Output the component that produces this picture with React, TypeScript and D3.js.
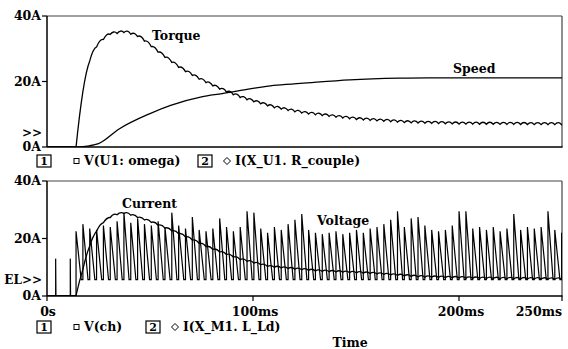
import React, { useEffect, useRef } from "react";
import * as d3 from "d3";

// upper plot: I(X_U1.R_couple) = torque, V(U1:omega) = speed
const torqueTimes = [0, 14.4, 16, 18, 20, 22, 25, 30, 38, 45, 55, 65, 75, 85, 95, 110, 125, 150, 175, 200, 225, 250];
const torqueValues = [0, 0, 10.5, 19.5, 25, 28.5, 31.5, 34.3, 35, 33.5, 28.4, 23.8, 20.3, 17.3, 14.8, 12, 10.2, 8.4, 7.4, 7, 6.9, 6.8];
const speedTimes = [0, 16, 20, 25, 35, 50, 60, 75, 85, 100, 110, 123, 147, 171, 185, 250];
const speedValues = [0, 0, 0.3, 1.0, 5.5, 10.2, 12.7, 15.3, 16.3, 17.9, 18.8, 19.4, 20.5, 21.0, 21.1, 21.1];

// lower plot: I(X_M1.L_Ld) = current, V(ch) = voltage
const currentTimes = [0, 14, 16, 18, 21, 24, 27, 32, 38, 50, 65, 79, 94, 108, 132, 157, 181, 210, 250];
const currentValues = [0, 0, 5, 11, 18, 22.5, 25.3, 28, 28.8, 25.8, 21.3, 16.6, 12.6, 10.1, 8.6, 7.8, 6.6, 6.1, 5.8];
const voltagePeaks = [
  22.5, 25, 23.5, 23, 24.5, 24, 26, 29, 25.5, 27, 25, 24.5, 26, 24, 29, 24.5, 23.5, 27.5,
  23, 22.5, 23.5, 27, 24, 22.5, 24, 29.5, 29, 23.5, 22, 24, 23, 25, 26.5, 28.5, 23, 22,
  21.5, 22, 22.5, 21.5, 22, 23, 22, 23.5, 24, 25, 26.5, 29.5, 24, 27, 27.5, 24.5, 23, 22.5,
  23, 24.5, 29.5, 29.5, 23.5, 24, 23, 24, 22.5, 23.5, 28.5, 23, 24, 23.5, 24, 29.5, 23, 22,
];
const earlySpikeTimes = [4.2, 11.3];
const earlySpikeValues = [13, 13];
const pwmStart = 14.1;
const pwmPeriod = 3.32;
const voltageBase = 5.7;

const yTicks = [0, 20, 40];
const yTickLabels = ["0A", "20A", "40A"];
const xTicks = [0, 100, 200, 250];
const xTickLabels = ["0s", "100ms", "200ms", "250ms"];

const font = "'DejaVu Serif', serif";

const App = () => {
  const ref = useRef<SVGSVGElement>(null);

  useEffect(() => {
    draw();
  });

  const draw = () => {
    const svg = d3.select(ref.current);
    svg.selectAll("*").remove();

    const left = 47;
    const right = 562;
    const x = d3.scaleLinear().domain([0, 250]).range([left, right]);
    const yTop = d3.scaleLinear().domain([0, 40]).range([147, 16]);
    const yBot = d3.scaleLinear().domain([0, 40]).range([296, 181]);

    const defs = svg.append("defs");
    defs.append("clipPath").attr("id", "clipTop")
      .append("rect").attr("x", left).attr("y", 16).attr("width", right - left).attr("height", 131);
    defs.append("clipPath").attr("id", "clipBot")
      .append("rect").attr("x", left).attr("y", 181).attr("width", right - left).attr("height", 115);

    // scalloped trace: cusps at each switching instant
    const rippled = (times: number[], values: number[], y: d3.ScaleLinear<number, number>, amp: number) => {
      const env = d3.scaleLinear().domain(times).range(values).clamp(true);
      let d = `M${x(0)},${y(0)}L${x(pwmStart)},${y(env(pwmStart))}`;
      for (let t0 = pwmStart; t0 < 250; t0 += pwmPeriod) {
        const t1 = t0 + pwmPeriod;
        const xm = (x(t0) + x(t1)) / 2;
        d += `Q${xm},${y(env((t0 + t1) / 2)) - amp * 2} ${x(t1)},${y(env(t1))}`;
      }
      return d;
    };

    const plots = [
      { y: yTop, marker: ">>", markerY: 133 },
      { y: yBot, marker: "EL>>", markerY: 280 },
    ];

    plots.forEach((p) => {
      const g = svg.append("g");
      const [y0, y1] = p.y.range();
      g.append("line").attr("x1", left).attr("x2", right).attr("y1", y1).attr("y2", y1)
        .attr("stroke", "#444").attr("stroke-width", 1.2);
      g.append("line").attr("x1", right).attr("x2", right).attr("y1", y1).attr("y2", y0)
        .attr("stroke", "#444").attr("stroke-width", 1.2);
      g.append("line").attr("x1", left).attr("x2", right + 0.6).attr("y1", y0).attr("y2", y0)
        .attr("stroke", "#000").attr("stroke-width", 1.5);
      g.append("line").attr("x1", left).attr("x2", left).attr("y1", y1).attr("y2", y0)
        .attr("stroke", "#000").attr("stroke-width", 1.5);
      yTicks.forEach((v, i) => {
        g.append("line").attr("x1", left - 5).attr("x2", left).attr("y1", p.y(v)).attr("y2", p.y(v))
          .attr("stroke", "#000").attr("stroke-width", 1.2);
        g.append("text").attr("x", left - 6).attr("y", p.y(v)).attr("dy", "0.35em")
          .attr("text-anchor", "end").attr("font-family", font).attr("font-weight", "bold")
          .attr("font-size", 12.5).text(yTickLabels[i]);
      });
      g.append("text").attr("x", left - 5).attr("y", p.markerY).attr("dy", "0.35em")
        .attr("text-anchor", "end").attr("font-family", font).attr("font-weight", "bold")
        .attr("font-size", 12).text(p.marker);
    });

    // bottom x axis
    xTicks.forEach((v, i) => {
      svg.append("line").attr("x1", x(v)).attr("x2", x(v)).attr("y1", 296).attr("y2", 301)
        .attr("stroke", "#000").attr("stroke-width", 1.2);
      svg.append("text").attr("x", i === 0 ? x(v) + 1 : i === xTicks.length - 1 ? x(v) : x(v) + 2)
        .attr("y", 312).attr("dy", "0.35em")
        .attr("text-anchor", i === 0 ? "middle" : i === xTicks.length - 1 ? "end" : "middle")
        .attr("font-family", font).attr("font-weight", "bold").attr("font-size", 12.5)
        .text(xTickLabels[i]);
    });
    svg.append("text").attr("x", 350).attr("y", 343).attr("dy", "0.35em").attr("text-anchor", "middle")
      .attr("font-family", font).attr("font-weight", "bold").attr("font-size", 12.5).text("Time");

    // upper traces
    const top = svg.append("g").attr("clip-path", "url(#clipTop)");
    top.append("path").attr("d", rippled(torqueTimes, torqueValues, yTop, 2))
      .attr("fill", "none").attr("stroke", "#000").attr("stroke-width", 1.3);
    const speedLine = d3.line<number>()
      .x((_, i) => x(speedTimes[i]))
      .y((d) => yTop(d))
      .curve(d3.curveMonotoneX);
    top.append("path").attr("d", speedLine(speedValues))
      .attr("fill", "none").attr("stroke", "#000").attr("stroke-width", 1.3);

    // lower traces
    const bot = svg.append("g").attr("clip-path", "url(#clipBot)");
    let vd = `M${x(0)},${yBot(0)}`;
    earlySpikeTimes.forEach((t, i) => {
      vd += `L${x(t)},${yBot(0)}L${x(t)},${yBot(earlySpikeValues[i])}L${x(t) + 0.3},${yBot(0)}`;
    });
    vd += `L${x(pwmStart)},${yBot(0)}`;
    voltagePeaks.forEach((v, k) => {
      const tk = pwmStart + k * pwmPeriod;
      vd += `L${x(tk)},${yBot(v)}L${x(tk + pwmPeriod * 0.75)},${yBot(voltageBase)}L${x(tk + pwmPeriod)},${yBot(voltageBase)}`;
    });
    bot.append("path").attr("d", vd)
      .attr("fill", "none").attr("stroke", "#000").attr("stroke-width", 1.2);
    bot.append("path").attr("d", rippled(currentTimes, currentValues, yBot, 1.4))
      .attr("fill", "none").attr("stroke", "#000").attr("stroke-width", 1.3);

    // trace labels
    const labels = [
      { t: "Torque", x: 152, y: 36 },
      { t: "Speed", x: 453, y: 69 },
      { t: "Current", x: 122, y: 204 },
      { t: "Voltage", x: 317, y: 221 },
    ];
    labels.forEach((l) => {
      svg.append("text").attr("x", l.x).attr("y", l.y).attr("dy", "0.35em")
        .attr("font-family", font).attr("font-weight", "bold").attr("font-size", 12.5).text(l.t);
    });

    // legends
    const legends = [
      { y: 161, a: "V(U1: omega)", box2: 198, b: "I(X_U1. R_couple)" },
      { y: 327, a: "V(ch)", box2: 146, b: "I(X_M1. L_Ld)" },
    ];
    legends.forEach((l) => {
      const g = svg.append("g").attr("font-family", font).attr("font-weight", "bold").attr("font-size", 12.5);
      [[37, "1"], [l.box2, "2"]].forEach(([bx, n]) => {
        g.append("rect").attr("x", bx as number).attr("y", l.y - 6).attr("width", 14).attr("height", 12)
          .attr("fill", "#fff").attr("stroke", "#000").attr("stroke-width", 1.2);
        g.append("text").attr("x", (bx as number) + 7).attr("y", l.y).attr("dy", "0.38em")
          .attr("text-anchor", "middle").attr("font-size", 11).text(n as string);
      });
      g.append("rect").attr("x", 74).attr("y", l.y - 2.5).attr("width", 5).attr("height", 5)
        .attr("fill", "none").attr("stroke", "#000").attr("stroke-width", 1);
      g.append("text").attr("x", 84).attr("y", l.y).attr("dy", "0.35em").text(l.a);
      const dx = l.box2 + 29;
      g.append("path").attr("d", `M${dx},${l.y - 3.5}L${dx + 3.5},${l.y}L${dx},${l.y + 3.5}L${dx - 3.5},${l.y}Z`)
        .attr("fill", "none").attr("stroke", "#000").attr("stroke-width", 1);
      g.append("text").attr("x", dx + 8).attr("y", l.y).attr("dy", "0.35em").text(l.b);
    });
  };

  return (
    <svg
      ref={ref}
      width={568}
      height={349}
      style={{ position: "absolute", left: 0, top: 0, background: "#fff" }}
    />
  );
};

export default App;
